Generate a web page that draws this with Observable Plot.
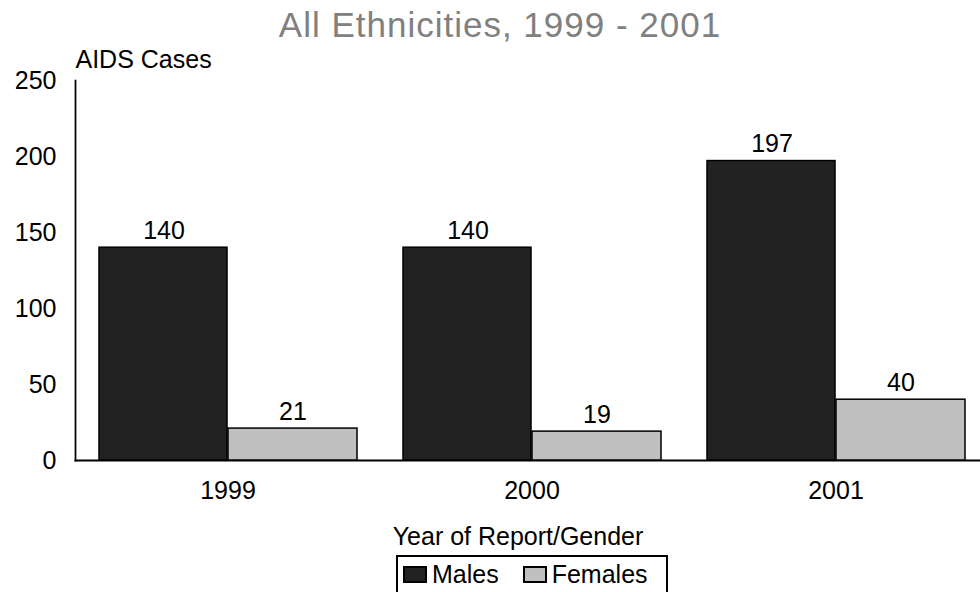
<!DOCTYPE html>
<html>
<head>
<meta charset="utf-8">
<script src="https://cdn.jsdelivr.net/npm/d3@7"></script>
<script src="https://cdn.jsdelivr.net/npm/@observablehq/plot@0.6"></script>
<style>
  html, body { margin: 0; padding: 0; background: #fff; }
  #chart { position: relative; width: 980px; height: 592px; overflow: hidden;
           font-family: "Liberation Sans", Arial, sans-serif; color: #000; }
  #title { height: 48px; line-height: 50px; font-size: 35px; letter-spacing: 1px;
           color: #808080; text-align: center; padding-left: 20px; white-space: nowrap; }
  #plot svg { display: block; }
  #legendbox { position: absolute; left: 396px; top: 555px; width: 272px; height: 60px;
               box-sizing: border-box; border: 2px solid #000; background: #fff; }
  .key-swatches { margin: 0 !important; padding: 1px 0 0 6px; white-space: nowrap;
                  font-family: "Liberation Sans", Arial, sans-serif !important;
                  font-size: 25px !important; color: #000; }
  .key-swatches-wrap { flex-wrap: nowrap !important; min-height: 33px; }
  .key-swatch { margin-right: 25px !important; flex-shrink: 0; }
  .key-swatch > svg { margin-right: 6px !important; overflow: visible; }
  .key-swatch rect { stroke: #000; stroke-width: 2px; }
</style>
</head>
<body>
<div id="chart">
  <div id="title">All Ethnicities, 1999 - 2001</div>
  <div id="plot"></div>
  <div id="legendbox"></div>
</div>
<script>
// AIDS cases by year of report and gender
const years = ["1999", "2000", "2001"];
const genders = ["Males", "Females"];
const males = [140, 140, 197];
const females = [21, 19, 40];
const yTicks = [0, 50, 100, 150, 200, 250];
const genderColors = ["#222222", "#c0c0c0"];
const yLabel = "AIDS Cases";
const xLabel = "Year of Report/Gender";

const FONT = '"Liberation Sans", Arial, sans-serif';

const rows = years.flatMap((year, i) => [
  {year, gender: "Males", cases: males[i]},
  {year, gender: "Females", cases: females[i]}
]);

const chart = Plot.plot({
  width: 980,
  height: 505,
  marginTop: 32,
  marginRight: 0,
  marginBottom: 93,
  marginLeft: 74,
  style: {fontFamily: FONT, fontSize: "25px", color: "#000", background: "#fff", overflow: "visible"},
  // year facets fill the frame; the gender bands sit inside each facet
  fx: {domain: years, paddingInner: 0.0246, paddingOuter: 0, label: null},
  x: {domain: genders, paddingInner: 0, paddingOuter: 0.1445, align: 0.613, axis: null},
  y: {domain: [0, 250]},
  color: {domain: genders, range: genderColors},
  marks: [
    // value axis line and baseline spanning the whole frame
    Plot.frame({anchor: "left", facet: "super", stroke: "#000", strokeWidth: 1.75}),
    Plot.frame({anchor: "bottom", facet: "super", stroke: "#000", strokeWidth: 2}),
    Plot.axisY({ticks: yTicks, tickSize: 0, tickPadding: 19, fontSize: 25, label: null}),
    Plot.axisFx({anchor: "bottom", tickSize: 0, tickPadding: 21, fontSize: 25, label: null, dx: 4}),
    Plot.barY(rows.filter(d => d.gender === "Males"), {
      fx: "year", x: "gender", y: "cases", fill: "gender",
      stroke: "#000", strokeWidth: 1.5, insetRight: 1
    }),
    Plot.barY(rows.filter(d => d.gender === "Females"), {
      fx: "year", x: "gender", y: "cases", fill: "gender",
      stroke: "#000", strokeWidth: 1.5
    }),
    Plot.text(rows, {
      fx: "year", x: "gender", y: "cases", text: d => String(d.cases),
      lineAnchor: "bottom", dy: -9, fontSize: 25, fill: "#000"
    }),
    Plot.text([yLabel], {
      text: d => d, frameAnchor: "top-left", textAnchor: "start", lineAnchor: "top",
      dy: -30, fontSize: 25, fill: "#000", facet: "super"
    }),
    Plot.text([xLabel], {
      text: d => d, frameAnchor: "bottom", lineAnchor: "top",
      dx: -10, dy: 67, fontSize: 25, fill: "#000", facet: "super"
    })
  ]
});
document.getElementById("plot").appendChild(chart);

const key = chart.legend("color", {
  legend: "swatches",
  swatchWidth: 22,
  swatchHeight: 15,
  className: "key"
});
document.getElementById("legendbox").appendChild(key);
</script>
</body>
</html>
